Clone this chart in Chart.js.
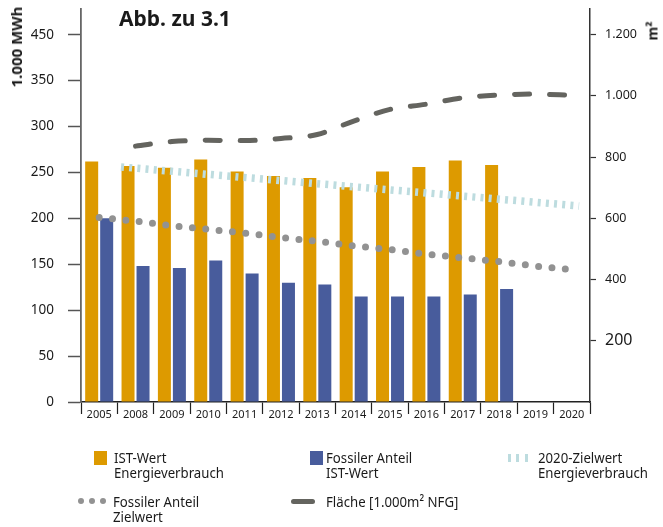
<!DOCTYPE html>
<html>
<head>
<meta charset="utf-8">
<script src="https://cdn.jsdelivr.net/npm/chart.js@4/dist/chart.umd.min.js"></script>
<style>
  html, body { margin:0; padding:0; background:#fff; }
  #wrap { position:relative; width:663px; height:527px; overflow:hidden; font-family:"Noto Sans", sans-serif; color:#1a1a1a; }
  #wrap canvas { position:absolute; left:0; top:0; }
  .ov { position:absolute; white-space:nowrap; }
  .rot { transform:translate(-50%,-50%) rotate(-90deg); font-weight:bold; }
  .lg { position:absolute; font-size:15px; line-height:15px; white-space:nowrap; transform:scaleX(0.88); transform-origin:0 0; color:#1a1a1a; }
  .sw { position:absolute; }
</style>
</head>
<body>
<div id="wrap">
  <canvas id="cBars" width="663" height="527"></canvas>
  <canvas id="cLines" width="663" height="527"></canvas>
  <div class="ov" style="left:119px; top:4px; font-size:21px; font-weight:bold;">Abb. zu 3.1</div>
  <div class="ov rot" style="left:16px; top:47px; font-size:15px;">1.000 MWh</div>
  <div class="ov rot" style="left:652px; top:31px; font-size:14px;">m²</div>

  <!-- legend -->
  <div class="sw" style="left:94px; top:451px; width:13px; height:14px; background:#dd9a00;"></div>
  <div class="lg" style="left:114px; top:450px;">IST-Wert<br>Energieverbrauch</div>

  <div class="sw" style="left:310px; top:451px; width:13px; height:14px; background:#485c9c;"></div>
  <div class="lg" style="left:326px; top:450px;">Fossiler Anteil<br>IST-Wert</div>

  <div class="sw" style="left:508px; top:454px; width:3px; height:8px; background:#bddcdf;"></div>
  <div class="sw" style="left:516px; top:454px; width:3px; height:8px; background:#bddcdf;"></div>
  <div class="sw" style="left:525px; top:454px; width:3px; height:8px; background:#bddcdf;"></div>
  <div class="lg" style="left:538px; top:450px;">2020-Zielwert<br>Energieverbrauch</div>

  <div class="sw" style="left:78px; top:498px; width:6px; height:6px; border-radius:3px; background:#929292;"></div>
  <div class="sw" style="left:89px; top:498px; width:6px; height:6px; border-radius:3px; background:#929292;"></div>
  <div class="sw" style="left:100px; top:498px; width:6px; height:6px; border-radius:3px; background:#929292;"></div>
  <div class="lg" style="left:113px; top:494px;">Fossiler Anteil<br>Zielwert</div>

  <div class="sw" style="left:291px; top:498.5px; width:24px; height:5px; border-radius:2.5px; background:#64645f;"></div>
  <div class="lg" style="left:326px; top:494px;">Fläche [1.000m² NFG]</div>
</div>
<script>
// ---- data ----
const categories = ['2005','2008','2009','2010','2011','2012','2013','2014','2015','2016','2017','2018','2019','2020'];
const istWert = [262, 257, 255, 264, 251, 246, 244, 234, 251, 256, 263, 258, null, null];
const fossilIst = [200, 148, 146, 154, 140, 130, 128, 115, 115, 115, 117, 123, null, null];
const fossilZiel = [201, 197, 192, 188, 184, 179, 175, 170, 166, 161, 157, 153, 148, 144];
const flaeche = [null, 836, 851, 855, 854, 861, 874, 918, 956, 973, 994, 1003, 1006, 1002];
const zielwertPos = [0.6, 13.2];      // category-index positions of the 2020 target line
const zielwertVal = [256, 213.5];
const leftTickValues = [0, 50, 100, 150, 200, 250, 300, 350, 400];
const leftTickLabels = ['0', '50', '100', '150', '200', '250', '300', '350', '450'];
const rightTickValues = [200, 400, 600, 800, 1000, 1200];
const rightTickLabels = ['200', '400', '600', '800', '1.000', '1.200'];

const FONT = 'Noto Sans';
const CLEAR = 'rgba(0,0,0,0)';
const noPad = (s) => { s.paddingTop = 0; s.paddingBottom = 0; };

// identical axis layout for both layers; the overlay layer keeps its axes invisible
function makeScales(show) {
  const col = (c) => (show ? c : CLEAR);
  return {
    x: {
      type: 'category', offset: true,
      grid: {
        offset: true, drawOnChartArea: false, drawTicks: true, tickLength: 12,
        tickColor: (c) => (c.index === categories.length ? CLEAR : col('#222')), tickWidth: 1.2
      },
      border: { display: true, color: col('#222'), width: 1.5 },
      ticks: { font: { family: FONT, size: 11 }, color: col('#1a1a1a'), padding: -6, maxRotation: 0, autoSkip: false },
      afterFit: (s) => { s.height = 125; }
    },
    xl: { type: 'linear', display: false, offset: false, min: -0.5, max: 13.5, grid: { offset: false } },
    y: {
      position: 'left', min: 0, max: 428,
      afterBuildTicks: (s) => { s.ticks = leftTickValues.map(v => ({ value: v })); },
      ticks: {
        callback: (v, i) => leftTickLabels[i],
        font: { family: FONT, size: 13.5 }, color: col('#1a1a1a'), padding: 14
      },
      grid: { drawOnChartArea: false, drawTicks: true, tickLength: 13, tickColor: col('#555'), tickWidth: 1.5 },
      border: { display: true, color: col('#666'), width: 1.8 },
      afterFit: (s) => { s.width = 81; noPad(s); }
    },
    y1: {
      position: 'right', min: 0, max: 1284,
      afterBuildTicks: (s) => { s.ticks = rightTickValues.map(v => ({ value: v })); },
      ticks: {
        callback: (v, i) => rightTickLabels[i],
        font: (c) => ({ family: FONT, size: (c.tick && c.tick.value === 200) ? 16 : 12.5 }),
        color: col('#1a1a1a'), padding: 9
      },
      grid: { drawOnChartArea: false, drawTicks: true, tickLength: 6, tickColor: col('#333'), tickWidth: 1.2 },
      border: { display: true, color: col('#333'), width: 1.5 },
      afterFit: (s) => { s.width = 73; noPad(s); }
    }
  };
}

const baseOptions = (show) => ({
  responsive: false,
  animation: false,
  layout: { padding: { top: 9, left: 0, right: 0, bottom: 0 } },
  plugins: { legend: { display: false }, tooltip: { enabled: false }, title: { display: false } },
  scales: makeScales(show)
});

// bar layer (draws the visible axes)
new Chart(document.getElementById('cBars'), {
  type: 'bar',
  data: {
    labels: categories,
    datasets: [
      { label: 'IST-Wert Energieverbrauch', data: istWert, backgroundColor: '#dd9a00',
        xAxisID: 'x', yAxisID: 'y', categoryPercentage: 0.825, barPercentage: 0.867 },
      { label: 'Fossiler Anteil IST-Wert', data: fossilIst, backgroundColor: '#485c9c',
        xAxisID: 'x', yAxisID: 'y', categoryPercentage: 0.825, barPercentage: 0.867 }
    ]
  },
  options: baseOptions(true)
});

// line layer (same scales, axes transparent), drawn above the bars
new Chart(document.getElementById('cLines'), {
  type: 'line',
  data: {
    labels: categories,
    datasets: [
      {
        label: 'Fossiler Anteil Zielwert', data: fossilZiel, xAxisID: 'x', yAxisID: 'y',
        borderColor: '#929292', borderWidth: 7, borderDash: [0, 13.4], borderCapStyle: 'round',
        pointRadius: 0, fill: false, tension: 0
      },
      {
        label: '2020-Zielwert Energieverbrauch',
        data: zielwertPos.map((p, i) => ({ x: p, y: zielwertVal[i] })),
        xAxisID: 'xl', yAxisID: 'y',
        borderColor: '#bddcdf', borderWidth: 7.5, borderDash: [3, 5.2], borderCapStyle: 'butt',
        pointRadius: 0, fill: false
      },
      {
        label: 'Fläche [1.000m² NFG]', data: flaeche, xAxisID: 'x', yAxisID: 'y1',
        borderColor: '#64645f', borderWidth: 5, borderDash: [15, 20], borderCapStyle: 'round',
        cubicInterpolationMode: 'monotone', pointRadius: 0, fill: false
      }
    ]
  },
  options: baseOptions(false)
});
</script>
</body>
</html>
